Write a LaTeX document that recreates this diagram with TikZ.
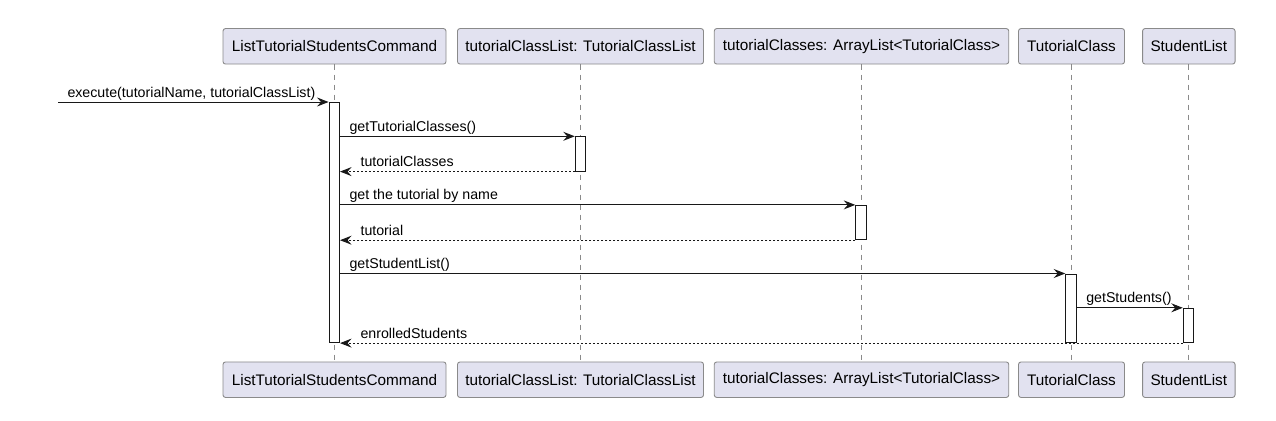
\documentclass[tikz,border=0pt]{standalone}
\usepackage{fontspec}
\setmainfont{Liberation Sans}
\usetikzlibrary{arrows.meta}
\definecolor{partfill}{HTML}{E2E2F0}
\definecolor{partborder}{HTML}{8A8A8A}
\definecolor{ink}{HTML}{181818}
\definecolor{lifegray}{HTML}{8A8A8A}
\tikzset{
  part/.style={draw=partborder, fill=partfill, rounded corners=2.5pt, line width=0.9pt,
    minimum height=35.5pt, inner sep=0pt, font=\fontsize{15.3}{17}\selectfont, text=black},
  lifeline/.style={draw=lifegray, line width=0.8pt, dash pattern=on 5pt off 5pt},
  actbox/.style={draw=ink, fill=white, line width=1pt, minimum width=10.5pt, inner sep=0pt, anchor=north},
  msg/.style={draw=ink, line width=1pt, -{Stealth[length=11.5pt, width=9pt, inset=4pt]}},
  ret/.style={msg, dash pattern=on 2pt off 2pt},
  rlab/.style={pos=0, anchor=base west, xshift=9pt, yshift=5pt, inner sep=0pt, font=\fontsize{14.2}{16}\selectfont, text=black},
  llab/.style={pos=1, anchor=base west, xshift=20pt, yshift=5pt, inner sep=0pt, font=\fontsize{14.2}{16}\selectfont, text=black}
}
\begin{document}
\begin{tikzpicture}[x=1pt, y=-1pt]
\useasboundingbox (0,0) rectangle (1276,420);
% top participants
\node[part, minimum width=223pt] (pA) at (334.5,46.3) {ListTutorialStudentsCommand};
\node[part, minimum width=246pt] (pB) at (580.5,46.3) {tutorialClassList: TutorialClassList};
\node[part, minimum width=294.5pt] (pC) at (861.5,46.3) {tutorialClasses: ArrayList<TutorialClass>};
\node[part, minimum width=106pt] (pD) at (1071.5,46.3) {TutorialClass};
\node[part, minimum width=92.5pt] (pE) at (1188.8,46.3) {StudentList};
% bottom participants
\node[part, minimum width=223pt] (qA) at (334.5,379.7) {ListTutorialStudentsCommand};
\node[part, minimum width=246pt] (qB) at (580.5,379.7) {tutorialClassList: TutorialClassList};
\node[part, minimum width=294.5pt] (qC) at (861.5,379.7) {tutorialClasses: ArrayList<TutorialClass>};
\node[part, minimum width=106pt] (qD) at (1071.5,379.7) {TutorialClass};
\node[part, minimum width=92.5pt] (qE) at (1188.8,379.7) {StudentList};
% lifelines
\draw[lifeline] (pA) -- (qA);
\draw[lifeline] (pB) -- (qB);
\draw[lifeline] (pC) -- (qC);
\draw[lifeline] (pD) -- (qD);
\draw[lifeline] (pE) -- (qE);
% activations
\node[actbox, minimum height=240.3pt] (a1) at (334.3,102) {};
\node[actbox, minimum height=34.3pt] (a2) at (580.5,136.3) {};
\node[actbox, minimum height=34.3pt] (a3) at (861,204.9) {};
\node[actbox, minimum height=68.6pt] (a4) at (1071,273.5) {};
\node[actbox, minimum height=34.3pt] (a5) at (1188.5,307.8) {};
% messages
\coordinate (start) at (58,102);
\draw[msg] (start) -- node[rlab]{execute(tutorialName, tutorialClassList)} (a1.north west);
\draw[msg] (a1.east |- a2.north) -- node[rlab]{getTutorialClasses()} (a2.north west);
\draw[ret] (a2.south west) -- node[llab]{tutorialClasses} (a1.east |- a2.south);
\draw[msg] (a1.east |- a3.north) -- node[rlab]{get the tutorial by name} (a3.north west);
\draw[ret] (a3.south west) -- node[llab]{tutorial} (a1.east |- a3.south);
\draw[msg] (a1.east |- a4.north) -- node[rlab]{getStudentList()} (a4.north west);
\draw[msg] (a4.east |- a5.north) -- node[rlab]{getStudents()} (a5.north west);
\draw[ret] (a5.south west) -- node[llab]{enrolledStudents} (a1.east |- a5.south);
% redraw activation of TutorialClass over the return line
\node[actbox, minimum height=68.6pt] at (1071,273.5) {};
\end{tikzpicture}
\end{document}
